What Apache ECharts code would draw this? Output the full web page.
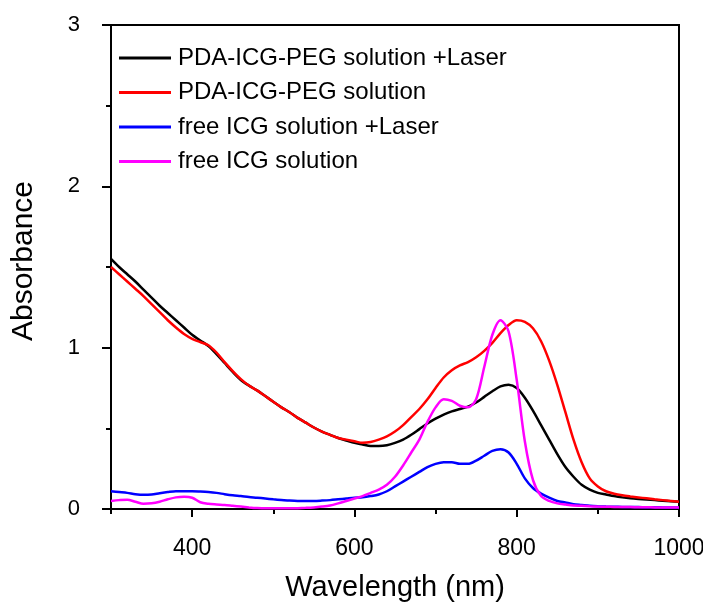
<!DOCTYPE html>
<html>
<head>
<meta charset="utf-8">
<script src="https://cdn.jsdelivr.net/npm/echarts@6/dist/echarts.min.js"></script>
<style>html,body{margin:0;padding:0;background:#fff}#c{width:703px;height:607px}</style>
</head>
<body>
<div id="c"></div>
<script>
const wavelengths = [300,310,320,330,340,350,360,370,380,390,400,410,420,430,440,450,460,470,480,490,500,510,520,530,540,550,560,570,580,590,600,610,620,630,640,650,660,670,680,690,700,710,720,730,740,750,760,770,780,790,800,810,820,830,840,850,860,870,880,890,900,910,920,930,940,950,960,970,980,990,1000];
const pdaLaser = [1.55,1.50,1.455,1.41,1.36,1.31,1.26,1.215,1.17,1.125,1.08,1.045,1.01,0.96,0.905,0.85,0.80,0.765,0.735,0.70,0.665,0.63,0.60,0.565,0.535,0.505,0.48,0.46,0.44,0.425,0.41,0.40,0.39,0.39,0.395,0.41,0.43,0.46,0.495,0.53,0.56,0.585,0.605,0.62,0.635,0.66,0.695,0.73,0.76,0.77,0.75,0.69,0.61,0.52,0.43,0.34,0.26,0.20,0.15,0.12,0.10,0.09,0.08,0.072,0.066,0.062,0.059,0.055,0.051,0.048,0.045];
const pda = [1.50,1.455,1.41,1.365,1.32,1.27,1.22,1.17,1.125,1.085,1.055,1.035,1.015,0.97,0.91,0.855,0.805,0.765,0.735,0.70,0.665,0.63,0.60,0.565,0.535,0.505,0.48,0.46,0.44,0.43,0.42,0.41,0.415,0.43,0.45,0.48,0.52,0.57,0.62,0.68,0.75,0.815,0.86,0.89,0.91,0.94,0.98,1.03,1.09,1.14,1.17,1.16,1.12,1.04,0.92,0.77,0.60,0.43,0.29,0.19,0.14,0.11,0.095,0.085,0.078,0.072,0.066,0.06,0.055,0.05,0.045];
const icgLaser = [0.11,0.105,0.10,0.092,0.088,0.09,0.098,0.105,0.11,0.11,0.11,0.108,0.105,0.10,0.092,0.085,0.08,0.074,0.07,0.065,0.06,0.056,0.052,0.05,0.05,0.05,0.052,0.055,0.06,0.065,0.07,0.073,0.08,0.09,0.11,0.14,0.17,0.20,0.23,0.26,0.28,0.29,0.29,0.28,0.28,0.30,0.33,0.36,0.37,0.35,0.28,0.19,0.13,0.095,0.07,0.05,0.04,0.03,0.025,0.02,0.017,0.015,0.014,0.013,0.012,0.012,0.011,0.011,0.01,0.01,0.01];
const icg = [0.05,0.055,0.058,0.045,0.032,0.035,0.045,0.06,0.072,0.076,0.07,0.042,0.032,0.028,0.025,0.02,0.015,0.01,0.006,0.004,0.004,0.004,0.004,0.005,0.007,0.01,0.015,0.022,0.035,0.05,0.065,0.08,0.10,0.12,0.15,0.20,0.27,0.35,0.43,0.54,0.63,0.68,0.67,0.64,0.63,0.68,0.88,1.08,1.17,1.10,0.80,0.42,0.18,0.08,0.05,0.035,0.028,0.022,0.02,0.017,0.015,0.014,0.013,0.012,0.012,0.011,0.011,0.01,0.01,0.01,0.01];
const seriesNames = ['PDA-ICG-PEG solution +Laser','PDA-ICG-PEG solution','free ICG solution +Laser','free ICG solution'];
const seriesColors = ['#000000','#ff0000','#0000ff','#ff00ff'];
const xMajorTicks = [400,600,800,1000];
const xMinorTicks = [300,500,700,900];

const font = 'Liberation Sans, Arial, sans-serif';
const allData = [pdaLaser, pda, icgLaser, icg];
const chart = echarts.init(document.getElementById('c'), null, {renderer:'canvas'});
chart.setOption({
  animation:false,
  backgroundColor:'#fff',
  grid:{left:111,right:24,top:25,bottom:98,show:true,borderColor:'#000',borderWidth:2,backgroundColor:'transparent',containLabel:false,outerBoundsMode:'none'},
  legend:{
    orient:'vertical',left:119,top:46,padding:0,itemWidth:52,itemHeight:3,itemGap:10.5,icon:'rect',
    textStyle:{fontFamily:font,fontSize:24,color:'#000',padding:[0,0,0,2]},
    data:seriesNames
  },
  xAxis:[{
    type:'value',min:300,max:1000,position:'bottom',
    axisLine:{show:true,lineStyle:{color:'#000',width:2}},
    axisTick:{show:true,inside:false,length:8,lineStyle:{color:'#000',width:2},customValues:xMajorTicks},
    axisLabel:{show:true,margin:28,fontFamily:font,fontSize:23,color:'#000',customValues:xMajorTicks,formatter:v=>String(v)},
    splitLine:{show:false},
    name:'Wavelength (nm)',nameLocation:'middle',nameGap:64,
    nameTextStyle:{fontFamily:font,fontSize:29,color:'#000'}
  },{
    type:'value',min:300,max:1000,position:'bottom',
    axisLine:{show:false},
    axisTick:{show:true,inside:false,length:5,lineStyle:{color:'#000',width:2},customValues:xMinorTicks},
    axisLabel:{show:false},
    splitLine:{show:false}
  }],
  yAxis:{
    type:'value',min:0,max:3,interval:1,
    axisLine:{show:true,lineStyle:{color:'#000',width:2}},
    axisTick:{show:true,inside:false,length:9,lineStyle:{color:'#000',width:2}},
    minorTick:{show:true,splitNumber:2,length:5,lineStyle:{color:'#000',width:2}},
    axisLabel:{margin:31,fontFamily:font,fontSize:22,color:'#000'},
    splitLine:{show:false},minorSplitLine:{show:false},
    name:'Absorbance',nameLocation:'middle',nameGap:72,nameRotate:90,
    nameTextStyle:{fontFamily:font,fontSize:30,color:'#000',padding:[0,0,0,12]}
  },
  series: seriesNames.map((n,i)=>({
    name:n,type:'line',xAxisIndex:0,showSymbol:false,symbol:'none',smooth:0.3,
    lineStyle:{color:seriesColors[i],width:2.5},itemStyle:{color:seriesColors[i]},
    data:wavelengths.map((w,j)=>[w,allData[i][j]])
  }))
});
</script>
</body>
</html>
